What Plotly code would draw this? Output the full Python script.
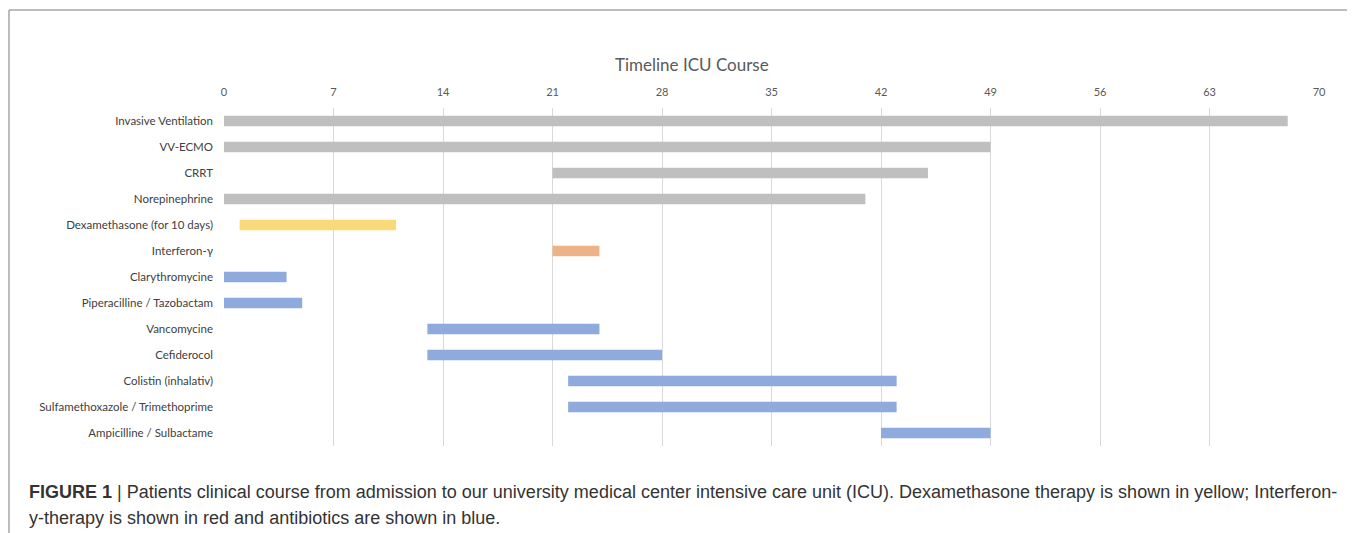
import plotly.graph_objects as go

categories = [
    "Invasive Ventilation", "VV-ECMO", "CRRT", "Norepinephrine",
    "Dexamethasone (for 10 days)", "Interferon-\u03b3", "Clarythromycine",
    "Piperacilline / Tazobactam", "Vancomycine", "Cefiderocol",
    "Colistin (inhalativ)", "Sulfamethoxazole / Trimethoprime",
    "Ampicilline / Sulbactame",
]
start_day = [0, 0, 21, 0, 1, 21, 0, 0, 13, 13, 22, 22, 42]
end_day = [68, 49, 45, 41, 11, 24, 4, 5, 24, 28, 43, 43, 49]
groups = ["support", "support", "support", "support", "steroid", "interferon",
          "antibiotic", "antibiotic", "antibiotic", "antibiotic", "antibiotic",
          "antibiotic", "antibiotic"]
group_colors = {"support": "#BFBFBF", "steroid": "#FAD978",
                "interferon": "#EEB287", "antibiotic": "#8FAADC"}
tick_vals = [0, 7, 14, 21, 28, 35, 42, 49, 56, 63, 70]
title_text = "Timeline ICU Course"
caption_line1 = ("<b>FIGURE 1</b> | Patients clinical course from admission to our university medical "
                 "center intensive care unit (ICU). Dexamethasone therapy is shown in yellow; Interferon-")
caption_line2 = "y-therapy is shown in red and antibiotics are shown in blue."

# page body has an 8px margin; work in window pixel coords and offset
OFF = 8
W, H = 1355 - OFF, 533 - OFF
L, R, T, B = 224 - OFF, 1319 - OFF, 108 - OFF, 446 - OFF

def px(x):
    return (x - OFF - L) / (R - L)

def py(y):
    return (B - (y - OFF)) / (B - T)

durations = [e - s for s, e in zip(start_day, end_day)]
colors = [group_colors[g] for g in groups]

fig = go.Figure(go.Bar(
    y=categories, x=durations, base=start_day, orientation="h",
    marker=dict(color=colors, line=dict(width=0)),
    width=0.4, hoverinfo="skip",
))

fig.update_layout(
    width=W, height=H,
    margin=dict(l=L, r=W - R, t=T, b=H - B, pad=0),
    plot_bgcolor="white", paper_bgcolor="white",
    showlegend=False,
    font=dict(family="Lato", size=11, color="#595959"),
    xaxis=dict(side="top", range=[0, 70], tickvals=tick_vals,
               showgrid=True, gridcolor="#D9D9D9", gridwidth=1,
               zeroline=False, showline=False, ticks="",
               tickfont=dict(family="Lato", size=11, color="#595959"),
               ticklabelstandoff=9),
    yaxis=dict(autorange="reversed", showgrid=False, zeroline=False,
               showline=False, ticks="", ticklabelstandoff=10,
               tickfont=dict(family="Lato", size=11.5, color="#404040")),
    shapes=[
        dict(type="line", xref="paper", yref="paper", x0=px(9), x1=px(9),
             y0=py(10), y1=py(545), line=dict(color="#A6A6A6", width=1.5)),
        dict(type="line", xref="paper", yref="paper", x0=px(1353), x1=px(1353),
             y0=py(10), y1=py(545), line=dict(color="#A6A6A6", width=1.5)),
        dict(type="line", xref="paper", yref="paper", x0=px(9), x1=px(1353),
             y0=py(10), y1=py(10), line=dict(color="#A6A6A6", width=1.5)),
    ],
    annotations=[
        dict(text=title_text, xref="paper", yref="paper", x=px(692), y=py(64),
             xanchor="center", yanchor="middle", showarrow=False,
             font=dict(family="Lato", size=17, color="#595959")),
        dict(text=caption_line1, xref="paper", yref="paper", x=px(27), y=py(492),
             xanchor="left", yanchor="middle", showarrow=False,
             font=dict(family="Liberation Sans", size=18, color="#333333")),
        dict(text=caption_line2, xref="paper", yref="paper", x=px(27), y=py(518),
             xanchor="left", yanchor="middle", showarrow=False,
             font=dict(family="Liberation Sans", size=18, color="#333333")),
    ],
)

fig.write_html("out.html")
